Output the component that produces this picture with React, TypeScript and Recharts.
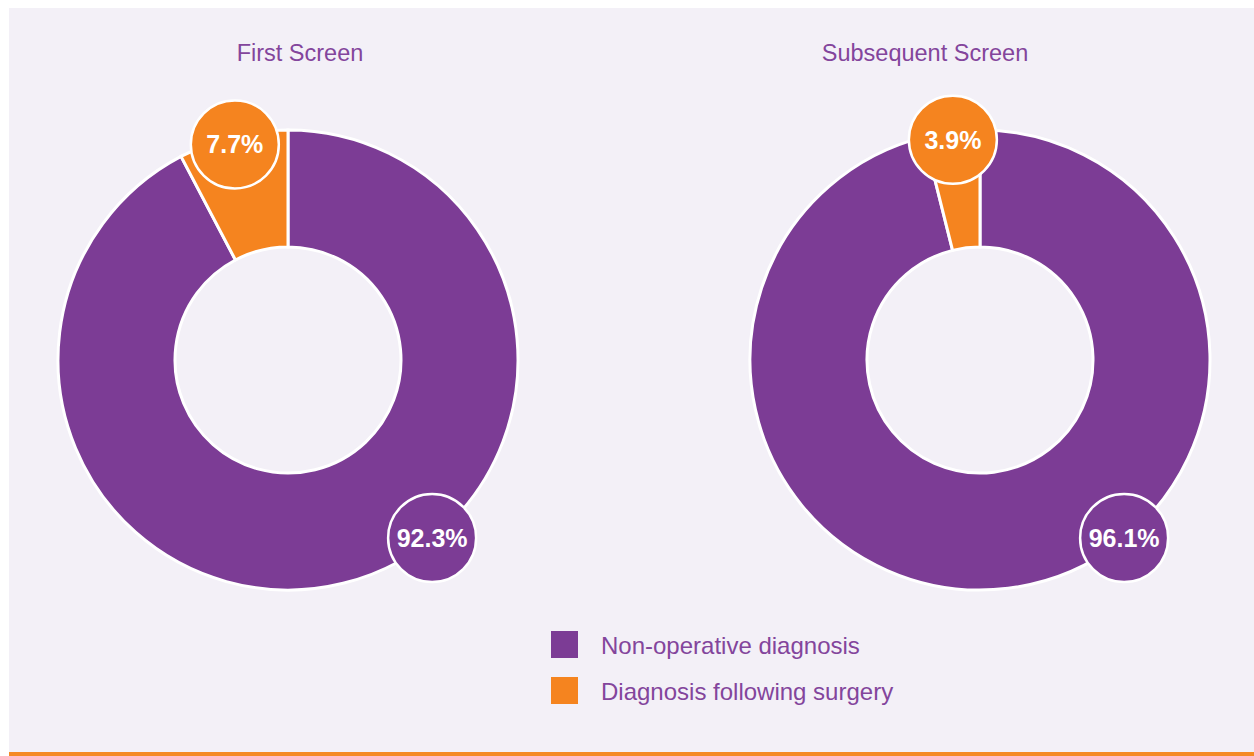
import { PieChart, Pie, Cell, Legend } from "recharts";

const categories = ["Non-operative diagnosis", "Diagnosis following surgery"];
const firstScreen = [92.3, 7.7];
const subsequentScreen = [96.1, 3.9];
const titles = ["First Screen", "Subsequent Screen"];

const COLORS = ["#7c3c95", "#f5841f"];
const BG = "#f3f0f7";
const TITLE_COLOR = "#83459c";
const FONT = "'Liberation Sans', Arial, Helvetica, sans-serif";

// the big slice's bubble sits at a fixed spot lower-right, not at its mid angle
const BIG_LABEL_ANGLE = -51;
const RADIAN = Math.PI / 180;

const toRows = (values: number[]) =>
  categories.map((name, i) => ({ name, value: values[i] }));

function renderBubble(props: any) {
  const { cx, cy, midAngle, outerRadius, index, value } = props;
  const angle = index === 0 ? BIG_LABEL_ANGLE : midAngle;
  const r = index === 0 ? outerRadius - 1 : outerRadius - 8;
  const x = cx + r * Math.cos(-angle * RADIAN);
  const y = cy + r * Math.sin(-angle * RADIAN);
  return (
    <g key={`bubble-${index}`}>
      <circle cx={x} cy={y} r={44} fill={COLORS[index]} stroke="#fff" strokeWidth={2.5} />
      <text
        x={x}
        y={y}
        dy={9}
        textAnchor="middle"
        fill="#fff"
        fontSize={25}
        fontWeight="bold"
        fontFamily={FONT}
      >
        {`${Number(value).toFixed(1)}%`}
      </text>
    </g>
  );
}

function LegendContent() {
  return (
    <div style={{ display: "flex", flexDirection: "column", gap: 19 }}>
      {categories.map((name, i) => (
        <div key={name} style={{ display: "flex", alignItems: "center", height: 27 }}>
          <div style={{ width: 27, height: 27, background: COLORS[i], marginRight: 23 }} />
          <span
            style={{
              fontSize: 24,
              color: TITLE_COLOR,
              fontFamily: FONT,
              lineHeight: "27px",
              position: "relative",
              top: 1,
            }}
          >
            {name}
          </span>
        </div>
      ))}
    </div>
  );
}

export default function App() {
  const centers = [279, 971];
  return (
    <div
      style={{
        position: "absolute",
        left: 9,
        top: 8,
        width: 1245,
        height: 748,
        background: BG,
        fontFamily: FONT,
      }}
    >
      {titles.map((t, i) => (
        <div
          key={t}
          style={{
            position: "absolute",
            top: 34,
            left: [291, 916][i] - 150,
            width: 300,
            textAlign: "center",
            fontSize: 23.5,
            lineHeight: "23px",
            color: TITLE_COLOR,
          }}
        >
          {t}
        </div>
      ))}
      <PieChart width={1245} height={744} margin={{ top: 0, right: 0, bottom: 0, left: 0 }}>
        {[firstScreen, subsequentScreen].map((values, p) => (
          <Pie
            key={titles[p]}
            data={toRows(values)}
            dataKey="value"
            nameKey="name"
            cx={centers[p]}
            cy={352}
            innerRadius={113}
            outerRadius={230}
            startAngle={90}
            endAngle={-270}
            stroke="#fff"
            strokeWidth={3}
            label={renderBubble}
            labelLine={false}
            isAnimationActive={false}
          >
            {values.map((_, i) => (
              <Cell key={i} fill={COLORS[i]} />
            ))}
          </Pie>
        ))}
        <Legend
          content={<LegendContent />}
          wrapperStyle={{ position: "absolute", left: 542, top: 623, width: 400, bottom: "auto" }}
        />
      </PieChart>
      <div
        style={{
          position: "absolute",
          left: 0,
          top: 744,
          width: 1245,
          height: 4,
          background: "#f58a24",
        }}
      />
    </div>
  );
}
